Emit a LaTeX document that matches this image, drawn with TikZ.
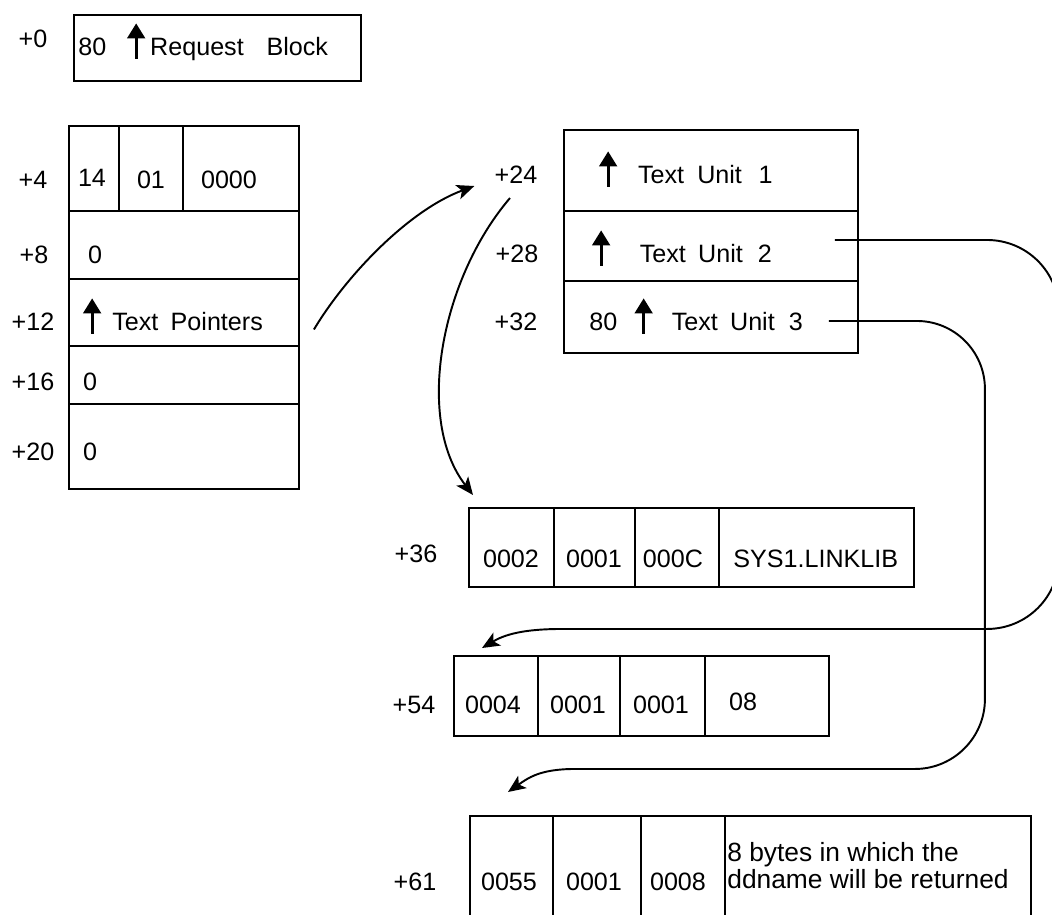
\documentclass[tikz,border=0pt]{standalone}
\usepackage{fontspec}
\setmainfont{Liberation Sans}
\usetikzlibrary{arrows.meta}
\newcommand\dfont{\fontsize{14.3}{17}\selectfont}
\newcommand\uarr{\makebox[10pt]{\tikz[baseline=2pt]\draw[line width=1.6pt,-{Triangle[length=8.5pt,width=10pt]}] (0pt,0pt) -- (0pt,20pt);}}

\begin{document}
\begin{tikzpicture}[x=0.02cm, y=-0.02cm,
  fr/.style 2 args={draw, line width=1.1pt, anchor=north west, inner sep=0pt,
    minimum width=#1*0.02cm, minimum height=#2*0.02cm},
  off/.style={anchor=base, inner sep=0pt, font=\dfont},
  val/.style={anchor=base, inner sep=0pt, font=\dfont},
  lbl/.style={anchor=base west, inner sep=0pt, font=\dfont},
  link/.style={-{Stealth[length=10pt,width=8.5pt,inset=2.5pt]}, line width=1.1pt}]

  \useasboundingbox (0,0) rectangle (1052,914);
  \clip (0,0) rectangle (1052,914);

  % request block and its fields
  \node[fr={287}{66}] (rb) at (73,14) {};
  \foreach \n/\x/\y/\w/\h in {l4a/68/125/50/85, l4b/118/125/64/85, l4c/182/125/116/85,
      l8/68/210/230/68, l12/68/278/230/67, l16/68/345/230/58, l20/68/403/230/85}
    \node[fr={\w}{\h}] (\n) at (\x,\y) {};

  % text unit pointer list
  \foreach \n/\y/\h in {t1/129/81, t2/210/70, t3/280/72}
    \node[fr={294}{\h}] (\n) at (563,\y) {};

  % the three text units
  \foreach \n/\x/\w in {s1/468/85, s2/553/81, s3/634/84, s4/718/195}
    \node[fr={\w}{79}] (\n) at (\x,507) {};
  \foreach \n/\x/\w in {d1/453/84, d2/537/82, d3/619/85, d4/704/124}
    \node[fr={\w}{80}] (\n) at (\x,655) {};
  \foreach \n/\x/\w in {e1/469/83, e2/552/88, e3/640/84, e4/724/306}
    \node[fr={\w}{130}] (\n) at (\x,815) {};

  % offsets
  \foreach \n/\x/\y/\t in {o0/33/47/+0, o4/33/188/+4, o8/34/263/+8, o12/33/330/+12,
      o16/33/390/+16, o20/33/460/+20, o24/516/183/+24, o28/517/262/+28,
      o32/516/330/+32, o36/416/562/+36, o54/414/713/+54, o61/415/890/+61}
    \node[off] (\n) at (\x,\y) {\t};

  % field values
  \foreach \n/\x/\y/\t in {v14/92/186/14, v01/151/188/01, v0000/229/188/0000,
      v8/95/263/0, v16/90/390/0, v20/90/460/0,
      s1v/511/567/0002, s2v/594/567/0001, s3v/673/567/000C,
      d1v/493/713/0004, d2v/578/713/0001, d3v/661/713/0001, d4v/743/710/08,
      e1v/509/890/0055, e2v/594/890/0001, e3v/678/890/0008}
    \node[val] (\n) at (\x,\y) {\t};

  \node[lbl] (rbt) at (78,55) {80\hspace{12pt}\uarr\hspace{3pt}Request\hspace{13pt}Block};
  \node[lbl] (tp) at (83,330) {\uarr\hspace{6.5pt}Text\hspace{7pt}Pointers};
  \node[lbl] (tu1) at (599,183) {\uarr\hspace{12pt}Text\hspace{7.5pt}Unit\hspace{9.5pt}1};
  \node[lbl] (tu2) at (592,262) {\uarr\hspace{17pt}Text\hspace{7pt}Unit\hspace{8.5pt}2};
  \node[lbl] (tu3) at (589,330) {80\hspace{10pt}\uarr\hspace{11pt}Text\hspace{7pt}Unit\hspace{8pt}3};
  \node[lbl] (lib) at (733,567) {SYS1.LINKLIB};
  \node[lbl, align=left, font=\fontsize{15}{13.5}\selectfont] (ret) at (727,888)
    {8 bytes in which the\\ddname will be returned};

  % pointer to the list, list to first unit
  \draw[link] ([shift={(14,17)}]l12.east) .. controls +(33,-55) and +(-65,24) .. ([shift={(-20,3)}]o24.base west);
  \draw[link] ([shift={(-6,15)}]o24.base) .. controls +(-70,82) and +(-58,-75) .. ([shift={(5,-12)}]s1.north west);

  % second and third unit, round the right side
  \draw[link] ([shift={(-24,-6)}]t2.east) -- ++(152,0)
    .. controls +(40,0) and +(0,-40) .. ++(72,72) -- ++(0,245)
    .. controls +(0,40) and +(40,0) .. ++(-72,72) -- ++(-425,0)
    .. controls +(-40,0) and +(22,-13) .. ([shift={(29,-7)}]d1.north west);
  \draw[link] ([shift={(-30,4)}]t3.east) -- ++(88,0)
    .. controls +(37.5,0) and +(0,-37.5) .. ++(68,68) -- ++(0,310)
    .. controls +(0,38.6) and +(38.6,0) .. ++(-70,70) -- ++(-340,0)
    .. controls +(-35,0) and +(20,-14) .. ([shift={(39,-23)}]e1.north west);
\end{tikzpicture}
\end{document}
